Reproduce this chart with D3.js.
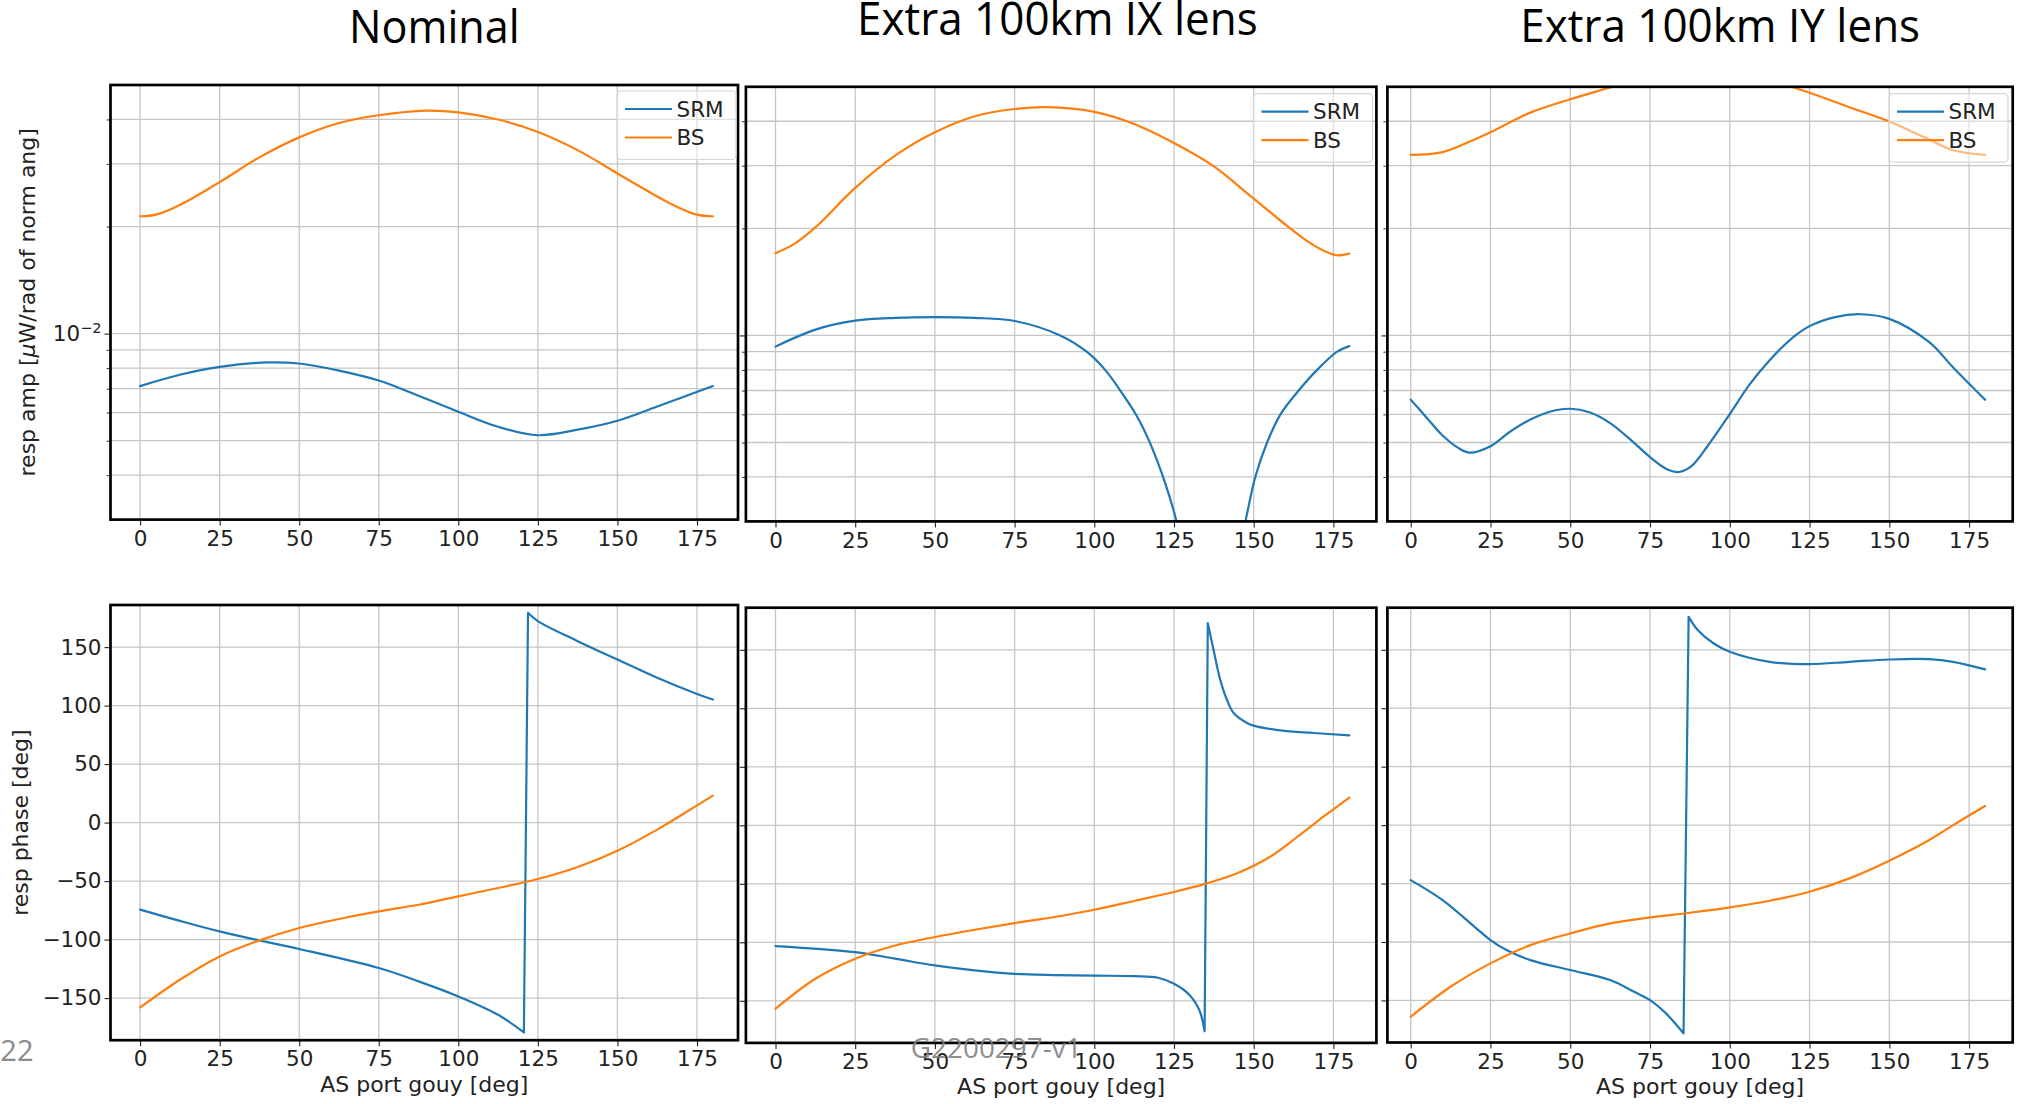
<!DOCTYPE html>
<html>
<head>
<meta charset="utf-8">
<script src="https://cdn.jsdelivr.net/npm/d3@7"></script>
<style>
  html, body { margin: 0; padding: 0; background: #fff; }
  svg { display: block; }
</style>
</head>
<body>
<div id="chart"></div>
<script>
// ---- data ----
const panelTitles = ["Nominal", "Extra 100km IX lens", "Extra 100km IY lens"];
const seriesNames = ["SRM", "BS"];
const seriesColors = ["#1f77b4", "#ff7f0e"];
const gouyTicks = [0, 25, 50, 75, 100, 125, 150, 175];
const phaseTicks = [-150, -100, -50, 0, 50, 100, 150];
const ampMajorTicks = [0.01];
const ampMinorTicks = [0.004, 0.005, 0.006, 0.007, 0.008, 0.009, 0.02, 0.03, 0.04];
const ampDomain = [0.003, 0.05];
const phaseDomain = [-186, 186];

// response amplitude [uW/rad], [gouy deg, value]
const ampNominalSRM = [[0, 0.00712], [12.5, 0.00766], [25, 0.00806], [40, 0.0083], [50, 0.00824], [62.5, 0.00787],
  [75, 0.00738], [87.5, 0.00669], [100, 0.00603], [112.5, 0.00547], [125, 0.00518], [137.5, 0.00537],
  [150, 0.00569], [162.5, 0.00624], [180, 0.00712]];
const ampNominalBS = [[0, 0.02138], [5, 0.0216], [12.5, 0.023], [25, 0.02667], [37.5, 0.0313], [50, 0.03562],
  [62.5, 0.0391], [75, 0.0411], [90, 0.04236], [100, 0.0419], [112.5, 0.04], [125, 0.0369], [137.5, 0.0328],
  [150, 0.0282], [162.5, 0.0243], [167.5, 0.023], [175, 0.0216], [180, 0.02138]];
const ampIXSRM = [[0, 0.0093], [12.5, 0.01038], [25, 0.011], [37.5, 0.0112], [50, 0.01126], [62.5, 0.0112],
  [75, 0.01098], [89.3, 0.01], [97.6, 0.009], [103.4, 0.008], [108.6, 0.0069], [113.5, 0.0059], [117.5, 0.00498],
  [122.2, 0.00385], [125.7, 0.00302], [131, 0.00175], [136.5, 0.0003], [142, 0.0018], [147.4, 0.003],
  [150.5, 0.004], [154.2, 0.005], [158.4, 0.006], [164.1, 0.007], [169.9, 0.008], [176.2, 0.009], [180, 0.00933]];
const ampIXBS = [[0, 0.01702], [6, 0.01811], [12.5, 0.02012], [25, 0.02598], [37.5, 0.03201], [50, 0.03724],
  [62.5, 0.04133], [75, 0.0433], [85, 0.04381], [100, 0.0425], [112.5, 0.03928], [125, 0.03473], [137.5, 0.02987],
  [150, 0.02423], [162.5, 0.01966], [167.5, 0.01824], [172.5, 0.01722], [176, 0.0168], [180, 0.01698]];
const ampIYSRM = [[0, 0.0066], [5, 0.00587], [10, 0.00523], [15, 0.00482], [18.5, 0.00468], [25, 0.00488],
  [31, 0.00535], [37.5, 0.0058], [45, 0.00615], [50, 0.00622], [56, 0.00608], [62.5, 0.00567], [70, 0.00499],
  [75, 0.00455], [80, 0.00422], [84, 0.00413], [88, 0.00429], [93, 0.00488], [100, 0.00601], [106, 0.00724],
  [112.5, 0.00852], [120, 0.0099], [125, 0.01062], [133, 0.01126], [141, 0.01147], [150, 0.01113],
  [162.5, 0.00957], [170, 0.00813], [180, 0.0066]];
const ampIYBS = [[0, 0.03216], [10, 0.03277], [20, 0.03554], [25, 0.03724], [37.5, 0.0423], [50, 0.04611],
  [62.5, 0.04977], [75, 0.0538], [91.5, 0.0565], [105, 0.0545], [117.5, 0.0506], [125, 0.0481], [137.5, 0.04381],
  [150, 0.03993], [162.5, 0.03554], [170, 0.03315], [180, 0.03216]];

// response phase [deg]
const phaseNominalSRM = [[0, -74.4], [12.5, -84], [25, -93], [37.5, -100.7], [50, -108], [75, -124.3],
  [87.5, -135.7], [100, -148.6], [112.5, -164.3], [120.6, -179.4], [121.9, 179.4], [125, 172.2], [137.5, 155.1],
  [150, 139.4], [162.5, 123.8], [175, 110], [180, 105.2]];
const phaseNominalBS = [[0, -158], [12.5, -134.3], [25, -114.4], [37.5, -100.7], [50, -90.1], [62.5, -82.4],
  [75, -75.9], [87.5, -70.2], [100, -63], [112.5, -55.9], [125, -48.2], [137.5, -37.9], [150, -24],
  [162.5, -6], [170, 6.3], [180, 23.1]];
const phaseIXSRM = [[0, -103.2], [25, -108.4], [37.5, -114], [50, -119.8], [62.5, -124], [75, -127],
  [87.5, -128], [100, -128.5], [112.5, -129], [120, -130.3], [125, -135.5], [130, -145.4], [133, -158.3],
  [134.6, -176], [135.6, 172.8], [137.4, 150], [139.5, 124.4], [141.6, 107.3], [143.7, 96], [147.9, 87.5],
  [150, 85.2], [158.3, 81.1], [168.8, 78.9], [180, 76.9]];
const phaseIXBS = [[0, -156.8], [12.5, -131.2], [25, -114], [37.5, -102.7], [50, -95.5], [62.5, -89.3],
  [75, -83.6], [87.5, -78.4], [100, -72.2], [112.5, -64.7], [125, -57], [135, -49.9], [145, -40.8],
  [155, -27.1], [165, -7.1], [172.5, 8.6], [180, 23.7]];
const phaseIYSRM = [[0, -47.1], [10, -64.2], [20, -87], [25, -98.4], [30, -106.9], [37.5, -115.5], [50, -124],
  [62.5, -132.6], [70, -142.6], [75, -149.7], [80, -161.1], [85.5, -178.2], [87.1, 178.2], [90, 166.8],
  [95, 155.4], [100, 148.3], [112.5, 139.7], [125, 137.7], [137.5, 139.7], [150, 141.7], [162.5, 142],
  [170, 139.7], [180, 133.2]];
const phaseIYBS = [[0, -164], [12.5, -138.3], [25, -118.3], [37.5, -102.7], [50, -92.7], [62.5, -84.1],
  [75, -79], [87.5, -75], [100, -70.4], [112.5, -64.7], [125, -57], [137.5, -45.6], [150, -30.5],
  [162.5, -12.8], [170, 0], [180, 16.3]];

const ampSeries = [[ampNominalSRM, ampNominalBS], [ampIXSRM, ampIXBS], [ampIYSRM, ampIYBS]];
const phaseSeries = [[phaseNominalSRM, phaseNominalBS], [phaseIXSRM, phaseIXBS], [phaseIYSRM, phaseIYBS]];

// ---- layout ----
const W = 2021, H = 1104;
const tickFont = 21.5, labelFont = 22;
const columns = [
  { left: 110.5, right: 738, x0: 140.1, x175: 697,
    ampTop: 85, ampBottom: 519.6, phaseTop: 605, phaseBottom: 1040.2,
    legendLeft: 617, legendTop: 91, titleX: 434.3, titleY: 42.9, titleW: 170.6 },
  { left: 745.9, right: 1376.4, x0: 775.5, x175: 1333.4,
    ampTop: 86.8, ampBottom: 521.4, phaseTop: 607.7, phaseBottom: 1042.9,
    legendLeft: 1253.5, legendTop: 93.6, titleX: 1057.4, titleY: 35, titleW: 400.7 },
  { left: 1387.4, right: 2012.7, x0: 1410.7, x175: 1969.1,
    ampTop: 86.8, ampBottom: 521.4, phaseTop: 607.7, phaseBottom: 1042.5,
    legendLeft: 1889, legendTop: 93.6, titleX: 1720.2, titleY: 42, titleW: 399.8 }
];

const svg = d3.select("#chart").append("svg")
  .attr("width", W).attr("height", H)
  .style("font-family", "'DejaVu Sans', sans-serif");

const fmtMinus = v => (v < 0 ? "\u2212" + Math.abs(v) : String(v));

function styleAxis(sel) {
  sel.select(".domain").remove();
  sel.selectAll(".tick line").attr("stroke", "#222").attr("stroke-width", 1.1);
  sel.selectAll(".tick text")
    .attr("fill", "#222")
    .style("font-family", "'DejaVu Sans', sans-serif")
    .style("font-size", tickFont + "px");
}

// smooth curve, but phase wraps (+-180 jumps) are drawn as straight segments
function curvePath(data, x, y, maxJump) {
  const smooth = d3.line().x(d => x(d[0])).y(d => y(d[1])).curve(d3.curveCatmullRom.alpha(0.5));
  const runs = [];
  let cur = [data[0]];
  for (let k = 1; k < data.length; k++) {
    if (Math.abs(data[k][1] - data[k - 1][1]) > maxJump) {
      runs.push(cur);
      cur = [];
    }
    cur.push(data[k]);
  }
  runs.push(cur);
  return runs.map((r, k) => {
    const p = r.length > 1 ? smooth(r) : `M${x(r[0][0])},${y(r[0][1])}`;
    return k === 0 ? p : p.replace(/^M/, "L");
  }).join("");
}

function drawPanel(cfg) {
  const { id, col, top, bottom, y, series, majorY, minorY, showYLabels, logLabels, legend, xLabel, maxJump } = cfg;
  const x = d3.scaleLinear().domain([0, 175]).range([col.x0, col.x175]);
  const g = svg.append("g");

  g.append("clipPath").attr("id", "clip-" + id)
    .append("rect")
    .attr("x", col.left).attr("y", top)
    .attr("width", col.right - col.left).attr("height", bottom - top);

  // grid
  const grid = g.append("g").attr("stroke", "#c6c6c6").attr("stroke-width", 1.3);
  grid.selectAll(".gx").data(gouyTicks).join("line").attr("class", "gx")
    .attr("x1", d => x(d)).attr("x2", d => x(d)).attr("y1", top).attr("y2", bottom);
  grid.selectAll(".gy").data(majorY.concat(minorY)).join("line").attr("class", "gy")
    .attr("x1", col.left).attr("x2", col.right).attr("y1", d => y(d)).attr("y2", d => y(d));

  // curves
  g.append("g").attr("clip-path", `url(#clip-${id})`)
    .selectAll("path").data(series).join("path")
    .attr("d", d => curvePath(d, x, y, maxJump))
    .attr("fill", "none")
    .attr("stroke", (d, i) => seriesColors[i])
    .attr("stroke-width", 2.2)
    .attr("stroke-linejoin", "round")
    .attr("stroke-linecap", "round");

  // axes
  const gx = g.append("g").attr("transform", `translate(0,${bottom})`)
    .call(d3.axisBottom(x).tickValues(gouyTicks).tickSize(6).tickPadding(5));
  styleAxis(gx);

  const gy = g.append("g").attr("transform", `translate(${col.left},0)`)
    .call(d3.axisLeft(y).tickValues(majorY).tickSize(6).tickPadding(3)
      .tickFormat(showYLabels ? (logLabels ? () => "10" : fmtMinus) : () => ""));
  styleAxis(gy);
  if (showYLabels && logLabels) {
    gy.selectAll(".tick text").each(function (d) {
      d3.select(this).append("tspan").attr("dy", "-8.4").style("font-size", "14.5px")
        .text("\u2212" + Math.abs(Math.round(Math.log10(d))));
    });
  }
  if (minorY.length) {
    const gm = g.append("g").attr("transform", `translate(${col.left},0)`)
      .call(d3.axisLeft(y).tickValues(minorY).tickSize(4).tickFormat(() => ""));
    styleAxis(gm);
    gm.selectAll(".tick line").attr("stroke-width", 0.9);
  }

  // frame
  g.append("rect")
    .attr("x", col.left).attr("y", top)
    .attr("width", col.right - col.left).attr("height", bottom - top)
    .attr("fill", "none").attr("stroke", "#000").attr("stroke-width", 2.7);

  if (legend) {
    const lg = g.append("g").attr("transform", `translate(${col.legendLeft},${col.legendTop})`);
    lg.append("rect").attr("width", 119).attr("height", 68.5).attr("rx", 4)
      .attr("fill", "#fff").attr("fill-opacity", 0.45)
      .attr("stroke", "#d6d6d6").attr("stroke-width", 1.2);
    seriesNames.forEach((name, i) => {
      const yy = 18 + i * 28.5;
      lg.append("line").attr("x1", 8).attr("x2", 55).attr("y1", yy).attr("y2", yy)
        .attr("stroke", seriesColors[i]).attr("stroke-width", 2.2);
      lg.append("text").attr("x", 59.5).attr("y", yy + 7.8)
        .attr("fill", "#222").style("font-size", tickFont + "px").text(name);
    });
  }

  if (xLabel) {
    g.append("text")
      .attr("x", (col.left + col.right) / 2).attr("y", bottom + 51.5)
      .attr("text-anchor", "middle").attr("fill", "#222")
      .style("font-size", labelFont + "px")
      .text(xLabel);
  }
}

columns.forEach((col, i) => {
  drawPanel({
    id: "amp" + i, col, top: col.ampTop, bottom: col.ampBottom,
    y: d3.scaleLog().domain(ampDomain).range([col.ampBottom, col.ampTop]),
    series: ampSeries[i], majorY: ampMajorTicks, minorY: ampMinorTicks,
    showYLabels: i === 0, logLabels: true, legend: true, xLabel: null, maxJump: Infinity
  });
  drawPanel({
    id: "phase" + i, col, top: col.phaseTop, bottom: col.phaseBottom,
    y: d3.scaleLinear().domain(phaseDomain).range([col.phaseBottom, col.phaseTop]),
    series: phaseSeries[i], majorY: phaseTicks, minorY: [],
    showYLabels: i === 0, logLabels: false, legend: false, xLabel: "AS port gouy [deg]", maxJump: 200
  });

  // slide titles
  svg.append("text")
    .attr("x", col.titleX).attr("y", col.titleY)
    .attr("text-anchor", "middle")
    .attr("textLength", col.titleW).attr("lengthAdjust", "spacingAndGlyphs")
    .style("font-family", "'Open Sans', 'Noto Sans', sans-serif")
    .style("font-size", "45px")
    .attr("fill", "#000")
    .text(panelTitles[i]);
});

// y labels (left column only)
const c0 = columns[0];
const ampLabel = svg.append("text")
  .attr("transform", `translate(35,${(c0.ampTop + c0.ampBottom) / 2}) rotate(-90)`)
  .attr("text-anchor", "middle").attr("fill", "#222")
  .style("font-size", labelFont + "px");
ampLabel.append("tspan").text("resp amp [");
ampLabel.append("tspan").style("font-style", "italic").text("\u03bc");
ampLabel.append("tspan").text("W/rad of norm ang]");

svg.append("text")
  .attr("transform", `translate(28,${(c0.phaseTop + c0.phaseBottom) / 2}) rotate(-90)`)
  .attr("text-anchor", "middle").attr("fill", "#222")
  .style("font-size", labelFont + "px")
  .text("resp phase [deg]");

// slide footer
svg.append("text")
  .attr("x", 33.5).attr("y", 1061)
  .attr("text-anchor", "end")
  .style("font-family", "'Open Sans', 'Noto Sans', sans-serif")
  .style("font-size", "29px")
  .attr("fill", "#8a8a8a")
  .text("2022");

svg.append("text")
  .attr("x", 910.7).attr("y", 1058.3)
  .attr("textLength", 171).attr("lengthAdjust", "spacingAndGlyphs")
  .style("font-family", "'Open Sans', 'Noto Sans', sans-serif")
  .style("font-size", "28px")
  .attr("fill", "#7f7f7f").attr("fill-opacity", 0.9)
  .text("G2200297-v1");
</script>
</body>
</html>
